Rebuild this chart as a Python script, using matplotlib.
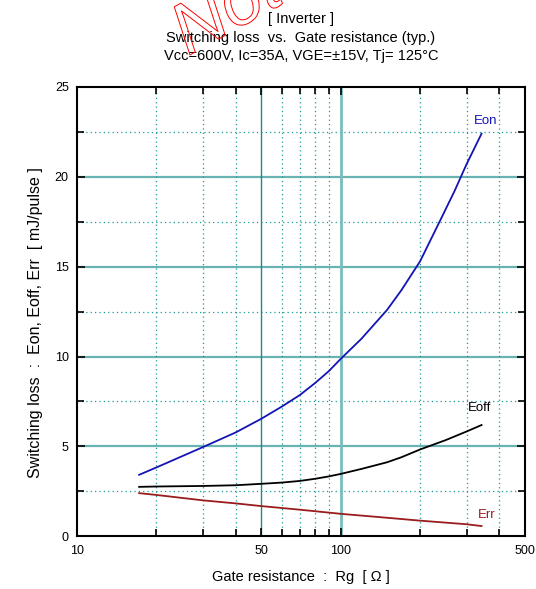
import matplotlib
matplotlib.use("Agg")
import matplotlib.pyplot as plt
from matplotlib import patheffects as pe
from matplotlib.ticker import FixedLocator, NullFormatter

plt.rcParams['font.family'] = ['Liberation Sans', 'DejaVu Sans']

# switching energy vs gate resistance, Tj = 125 C
rg_eon = [17.2, 20, 30, 40, 50, 60, 70, 80, 90, 100, 120, 150, 170, 200, 237, 270, 300, 342]
eon = [3.42, 3.83, 4.96, 5.78, 6.54, 7.23, 7.86, 8.53, 9.18, 9.87, 11.0, 12.6, 13.7,
       15.3, 17.5, 19.2, 20.7, 22.4]

rg_eoff = [17.2, 20, 30, 40, 50, 60, 70, 80, 90, 100, 120, 150, 170, 200, 250, 300, 342]
eoff = [2.75, 2.77, 2.8, 2.84, 2.92, 2.99, 3.08, 3.2, 3.33, 3.47, 3.75, 4.12, 4.4,
        4.83, 5.35, 5.83, 6.19]

rg_err = [17.2, 20, 30, 40, 50, 70, 100, 150, 200, 250, 300, 342]
err = [2.4, 2.3, 2.0, 1.83, 1.68, 1.48, 1.25, 1.03, 0.87, 0.76, 0.67, 0.57]

x_major = [10, 50, 100, 500]
x_minor = [20, 30, 40, 60, 70, 80, 90, 200, 300, 400]
y_major = [0, 5, 10, 15, 20, 25]
y_minor = [2.5, 7.5, 12.5, 17.5, 22.5]

fig = plt.figure(figsize=(5.36, 5.89), dpi=100)
ax = fig.add_axes([0.1437, 0.0895, 0.8358, 0.7628])
ax.set_xscale('log')
ax.set_xlim(10, 500)
ax.set_ylim(0, 25)

# grid: dotted minors, solid majors
dot = dict(color='#1a9a9a', lw=0.9, ls=(0, (1, 2.5)), zorder=1)
for y in y_minor:
    ax.axhline(y, **dot)
for y in y_major[1:-1]:
    ax.axhline(y, color='#6ab3b3', lw=1.6, zorder=1)
for x in x_minor:
    ax.axvline(x, **dot)
ax.axvline(50, color='#1a8a8a', lw=1.0, zorder=1)
ax.axvline(100, color='#7abcbc', lw=2.0, zorder=1)

ax.plot(rg_eon, eon, color='#1414b4', lw=1.3, zorder=3)
ax.plot(rg_eoff, eoff, color='black', lw=1.3, zorder=3)
ax.plot(rg_err, err, color='#9a1c1c', lw=1.3, zorder=3)

ax.text(356, 23.1, 'Eon', color='#1414b4', fontsize=9.5, ha='center', va='center')
ax.text(335, 7.16, 'Eoff', color='black', fontsize=9.5, ha='center', va='center')
ax.text(359, 1.19, 'Err', color='#9a1c1c', fontsize=9.5, ha='center', va='center')

ax.xaxis.set_major_locator(FixedLocator(x_major))
ax.xaxis.set_minor_locator(FixedLocator(x_minor))
ax.xaxis.set_major_formatter(plt.FixedFormatter([str(v) for v in x_major]))
ax.xaxis.set_minor_formatter(NullFormatter())
ax.yaxis.set_major_locator(FixedLocator(y_major))
ax.yaxis.set_minor_locator(FixedLocator(y_minor))

ax.tick_params(which='both', direction='in', top=True, right=True,
               labelsize=9, colors='black', width=1.2)
ax.tick_params(which='major', length=6, pad=6)
ax.tick_params(which='minor', length=5)
for s in ax.spines.values():
    s.set_linewidth(1.5)

cx = 0.5616
fig.text(cx, 0.9677, '[ Inverter ]', ha='center', va='center', fontsize=10.5)
fig.text(cx, 0.9355, 'Switching loss  vs.  Gate resistance (typ.)',
         ha='center', va='center', fontsize=10.5)
fig.text(cx, 0.9049, 'Vcc=600V, Ic=35A, VGE=\u00b115V, Tj= 125\u00b0C',
         ha='center', va='center', fontsize=10.5)

fig.text(cx, 0.0204, 'Gate resistance  :  Rg  [ \u03a9 ]', ha='center', va='center',
         fontsize=10.5)
fig.text(0.0653, 0.4516, 'Switching loss  :  Eon, Eoff, Err  [ mJ/pulse ]',
         ha='center', va='center', rotation=90, fontsize=11.5)

# hollow red stamp across the heading
fig.text(188 / 536, 1 - 56 / 589, 'Not Recommended', rotation=29,
         rotation_mode='anchor', ha='left', va='baseline', fontsize=52,
         style='italic', color=(0, 0, 0, 0), zorder=10,
         path_effects=[pe.Stroke(linewidth=0.7, foreground='red')])

fig.savefig('out.png', dpi=100)
